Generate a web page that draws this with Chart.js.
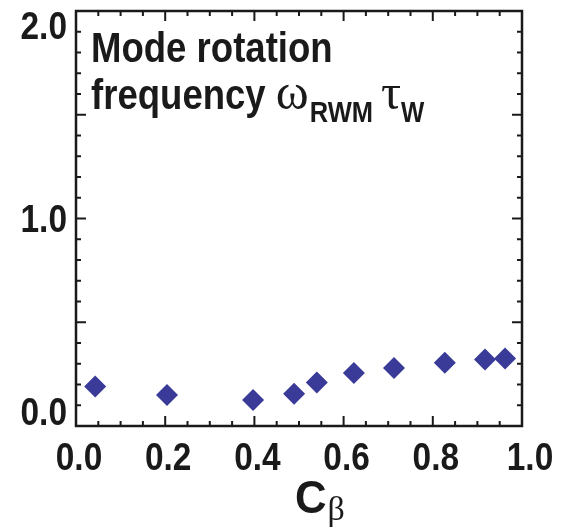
<!DOCTYPE html>
<html>
<head>
<meta charset="utf-8">
<script src="https://cdn.jsdelivr.net/npm/chart.js@4.4.1/dist/chart.umd.min.js"></script>
<style>
  html, body { margin: 0; padding: 0; background: #fff; }
  canvas { display: block; }
</style>
</head>
<body>
<canvas id="rwmChart" width="566" height="529"></canvas>
<script>
// values
const cBeta = [0.043, 0.204, 0.397, 0.489, 0.540, 0.623, 0.713, 0.827, 0.917, 0.962];
const omegaTau = [0.19, 0.15, 0.125, 0.155, 0.21, 0.255, 0.28, 0.305, 0.32, 0.325];
const xTickLabels = ['0.0', '0.2', '0.4', '0.6', '0.8', '1.0'];
const yTickLabels = ['0.0', '1.0', '2.0'];

const SANS = '"Liberation Sans", Arial, sans-serif';
const SERIF = '"Liberation Serif", "DejaVu Serif", serif';
const INK = '#1a1a1a';

// no narrow font installed, so squeeze Liberation Sans Bold; returns the width
function narrowText(ctx, text, x, y, size, align, squeeze) {
  const sq = squeeze || 0.85;
  ctx.save();
  ctx.font = 'bold ' + size + 'px ' + SANS;
  ctx.textAlign = align || 'left';
  ctx.translate(x, y);
  ctx.scale(sq, 1);
  ctx.fillText(text, 0, 0);
  const w = ctx.measureText(text).width * sq;
  ctx.restore();
  return w;
}

// frame, inward ticks and all the text, IDL style
const idlAxes = {
  id: 'idlAxes',
  afterDraw(chart) {
    const { ctx, chartArea: a, scales } = chart;
    const x = scales.x, y = scales.y;
    ctx.save();
    ctx.strokeStyle = INK;
    ctx.fillStyle = INK;

    // ticks
    ctx.lineWidth = 2;
    ctx.beginPath();
    x.ticks.forEach(t => {
      const v = Math.round(t.value * 100);
      if (v <= 0 || v >= 100) return;
      const px = x.getPixelForValue(t.value);
      const len = v % 20 === 0 ? 10 : 5;
      ctx.moveTo(px, a.bottom); ctx.lineTo(px, a.bottom - len);
      ctx.moveTo(px, a.top); ctx.lineTo(px, a.top + len);
    });
    y.ticks.forEach(t => {
      const v = Math.round(t.value * 10);
      if (v <= 0 || v >= 20) return;
      const py = y.getPixelForValue(t.value);
      const len = v % 5 === 0 ? 10 : 5;
      ctx.moveTo(a.left, py); ctx.lineTo(a.left + len, py);
      ctx.moveTo(a.right, py); ctx.lineTo(a.right - len, py);
    });
    ctx.stroke();

    // frame
    ctx.lineWidth = 2.5;
    ctx.strokeRect(a.left, a.top, a.right - a.left, a.bottom - a.top);

    // tick labels
    xTickLabels.forEach((lab, i) => {
      const px = x.getPixelForValue(parseFloat(lab));
      const shift = i === xTickLabels.length - 1 ? 8 : 3;
      narrowText(ctx, lab, px + shift, 470, 38, 'center', 0.88);
    });
    yTickLabels.forEach((lab, i) => {
      const py = y.getPixelForValue(parseFloat(lab));
      let base = py + 13;
      if (i === 0) base = py - 1;
      if (i === yTickLabels.length - 1) base = py + 28;
      narrowText(ctx, lab, 67, base, 38, 'right', 0.88);
    });

    // annotation inside the plot
    narrowText(ctx, 'Mode rotation', 91, 62, 43);
    let cx = 91;
    cx += narrowText(ctx, 'frequency ', cx, 109, 43);
    ctx.textAlign = 'left';
    ctx.font = '50px ' + SERIF;
    ctx.fillText('ω', cx, 109);
    cx += ctx.measureText('ω').width + 1;
    cx += narrowText(ctx, 'RWM', cx, 122, 30) + 8;
    ctx.font = '50px ' + SERIF;
    ctx.fillText('τ', cx, 109);
    cx += ctx.measureText('τ').width;
    narrowText(ctx, 'W', cx, 122, 29);

    // x axis title
    const cw = narrowText(ctx, 'C', 295, 513, 46, 'left', 0.95);
    ctx.font = '34px ' + SERIF;
    ctx.fillText('β', 295 + cw + 1, 520);

    ctx.restore();
  }
};

new Chart(document.getElementById('rwmChart'), {
  type: 'scatter',
  data: {
    datasets: [{
      data: cBeta.map((v, i) => ({ x: v, y: omegaTau[i] })),
      pointStyle: 'rectRot',
      pointRadius: 11,
      pointHoverRadius: 11,
      backgroundColor: '#3a3a98',
      borderWidth: 0
    }]
  },
  options: {
    responsive: false,
    animation: false,
    layout: { padding: { left: 76, right: 44, top: 10, bottom: 103 } },
    plugins: { legend: { display: false }, tooltip: { enabled: false } },
    scales: {
      x: {
        type: 'linear', min: 0, max: 1,
        ticks: { stepSize: 0.05, display: false },
        grid: { display: false, drawTicks: false },
        border: { display: false }
      },
      y: {
        type: 'linear', min: 0, max: 2,
        ticks: { stepSize: 0.1, display: false },
        grid: { display: false, drawTicks: false },
        border: { display: false }
      }
    }
  },
  plugins: [idlAxes]
});
</script>
</body>
</html>
